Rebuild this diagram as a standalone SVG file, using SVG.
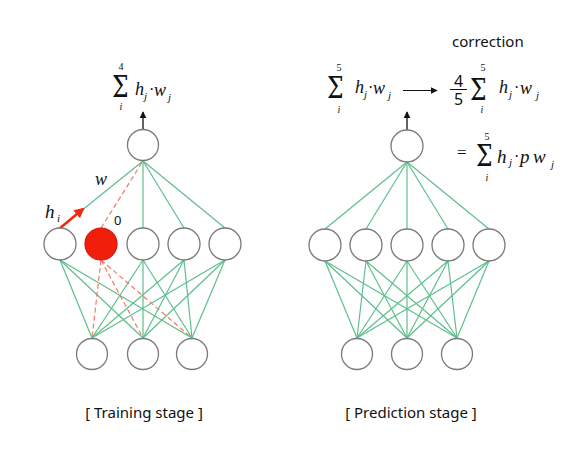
<svg xmlns="http://www.w3.org/2000/svg" width="583" height="456" viewBox="0 0 583 456">
<defs>
<marker id="ab" viewBox="0 0 10 10" refX="9" refY="5" markerWidth="7" markerHeight="7" markerUnits="userSpaceOnUse" orient="auto"><path d="M0,0 L10,5 L0,10 z" fill="#111"/></marker>
<marker id="ar" viewBox="0 0 10 10" refX="8" refY="5" markerWidth="4" markerHeight="4" orient="auto"><path d="M0,0 L10,5 L0,10 z" fill="#ee2a10"/></marker>
</defs>
<style>
.n{fill:#fff;stroke:#7a7a7a;stroke-width:1.3}
.g{stroke:#5dbf8b;stroke-width:1.2;fill:none}
.rd{stroke:#f27a68;stroke-width:1.2;fill:none;stroke-dasharray:5 3}
.m{font-family:"Liberation Serif",serif;font-style:italic;fill:#111}
.s{font-family:"Liberation Serif",serif;fill:#111}
.sig{font-family:"DejaVu Serif",serif;fill:#111;font-size:26px;font-weight:normal}
.t{font-family:"Noto Sans","Liberation Sans",sans-serif;fill:#111}
</style>
<rect width="583" height="456" fill="#fff"/>
<g id="connectors">
<line class="g" x1="60" y1="228" x2="143" y2="161"/>
<line class="rd" x1="101" y1="228" x2="143" y2="161"/>
<line class="g" x1="143" y1="228" x2="143" y2="161"/>
<line class="g" x1="184" y1="228" x2="143" y2="161"/>
<line class="g" x1="225" y1="228" x2="143" y2="161"/>
<line class="g" x1="60" y1="260" x2="92" y2="338"/>
<line class="g" x1="60" y1="260" x2="143" y2="338"/>
<line class="g" x1="60" y1="260" x2="192" y2="338"/>
<line class="rd" x1="101" y1="260" x2="92" y2="338"/>
<line class="rd" x1="101" y1="260" x2="143" y2="338"/>
<line class="rd" x1="101" y1="260" x2="192" y2="338"/>
<line class="g" x1="143" y1="260" x2="92" y2="338"/>
<line class="g" x1="143" y1="260" x2="143" y2="338"/>
<line class="g" x1="143" y1="260" x2="192" y2="338"/>
<line class="g" x1="184" y1="260" x2="92" y2="338"/>
<line class="g" x1="184" y1="260" x2="143" y2="338"/>
<line class="g" x1="184" y1="260" x2="192" y2="338"/>
<line class="g" x1="225" y1="260" x2="92" y2="338"/>
<line class="g" x1="225" y1="260" x2="143" y2="338"/>
<line class="g" x1="225" y1="260" x2="192" y2="338"/>
<line class="g" x1="325" y1="229" x2="407" y2="162"/>
<line class="g" x1="366" y1="229" x2="407" y2="162"/>
<line class="g" x1="407" y1="229" x2="407" y2="162"/>
<line class="g" x1="448" y1="229" x2="407" y2="162"/>
<line class="g" x1="489" y1="229" x2="407" y2="162"/>
<line class="g" x1="325" y1="261" x2="357" y2="338"/>
<line class="g" x1="325" y1="261" x2="407" y2="338"/>
<line class="g" x1="325" y1="261" x2="457" y2="338"/>
<line class="g" x1="366" y1="261" x2="357" y2="338"/>
<line class="g" x1="366" y1="261" x2="407" y2="338"/>
<line class="g" x1="366" y1="261" x2="457" y2="338"/>
<line class="g" x1="407" y1="261" x2="357" y2="338"/>
<line class="g" x1="407" y1="261" x2="407" y2="338"/>
<line class="g" x1="407" y1="261" x2="457" y2="338"/>
<line class="g" x1="448" y1="261" x2="357" y2="338"/>
<line class="g" x1="448" y1="261" x2="407" y2="338"/>
<line class="g" x1="448" y1="261" x2="457" y2="338"/>
<line class="g" x1="489" y1="261" x2="357" y2="338"/>
<line class="g" x1="489" y1="261" x2="407" y2="338"/>
<line class="g" x1="489" y1="261" x2="457" y2="338"/>
<line x1="143" y1="130" x2="143" y2="112" stroke="#111" stroke-width="1.3" marker-end="url(#ab)"/>
<line x1="407" y1="130" x2="407" y2="112" stroke="#111" stroke-width="1.3" marker-end="url(#ab)"/>
<line x1="403" y1="90.5" x2="437" y2="90.5" stroke="#111" stroke-width="1.2" marker-end="url(#ab)"/>
<line x1="59" y1="229" x2="83" y2="209" stroke="#ee2a10" stroke-width="2.6" marker-end="url(#ar)"/>
</g>
<g id="left-top"><circle class="n" cx="143" cy="145" r="15.5"/></g>
<g id="left-m1"><circle class="n" cx="60" cy="244" r="16"/></g>
<g id="left-m2"><circle cx="101" cy="244" r="16" fill="#f01e0a" stroke="#d81408" stroke-width="1.2"/></g>
<g id="left-m3"><circle class="n" cx="143" cy="244" r="16"/></g>
<g id="left-m4"><circle class="n" cx="184" cy="244" r="16"/></g>
<g id="left-m5"><circle class="n" cx="225" cy="244" r="16"/></g>
<g id="left-b1"><circle class="n" cx="92" cy="354" r="15.5"/></g>
<g id="left-b2"><circle class="n" cx="143" cy="354" r="15.5"/></g>
<g id="left-b3"><circle class="n" cx="192" cy="354" r="15.5"/></g>
<g id="right-top"><circle class="n" cx="407" cy="146" r="16"/></g>
<g id="right-m1"><circle class="n" cx="325" cy="245" r="16"/></g>
<g id="right-m2"><circle class="n" cx="366" cy="245" r="16"/></g>
<g id="right-m3"><circle class="n" cx="407" cy="245" r="16"/></g>
<g id="right-m4"><circle class="n" cx="448" cy="245" r="16"/></g>
<g id="right-m5"><circle class="n" cx="489" cy="245" r="16"/></g>
<g id="right-b1"><circle class="n" cx="357" cy="354" r="15.5"/></g>
<g id="right-b2"><circle class="n" cx="407" cy="354" r="15.5"/></g>
<g id="right-b3"><circle class="n" cx="457" cy="354" r="15.5"/></g>
<g id="labels-left">
<text class="m" x="95" y="185" font-size="18">w</text>
<text class="m" x="45" y="218" font-size="19">h</text>
<text class="m" x="57" y="222" font-size="11">i</text>
<text class="t" x="114" y="225" font-size="13">0</text>
</g>
<g id="formula-left">
<text class="sig" transform="translate(112,97) scale(0.9,1.15)">Σ</text>
<text class="s" x="121" y="70" font-size="10" text-anchor="middle">4</text>
<text class="m" x="121" y="110" font-size="10" text-anchor="middle">i</text>
<text class="m" x="135" y="95" font-size="18">h</text>
<text class="m" x="144" y="100" font-size="11">j</text>
<text class="s" x="149" y="95" font-size="16">·</text>
<text class="m" x="154" y="96" font-size="18">w</text>
<text class="m" x="168" y="101" font-size="11">j</text>
</g>
<g id="formula-right">
<text class="t" x="452" y="47" font-size="15">correction</text>
<text class="sig" transform="translate(327,98) scale(0.9,1.15)">Σ</text>
<text class="s" x="339" y="71" font-size="10" text-anchor="middle">5</text>
<text class="m" x="339" y="113" font-size="10" text-anchor="middle">i</text>
<text class="m" x="355" y="93" font-size="18">h</text>
<text class="m" x="364" y="98" font-size="11">j</text>
<text class="s" x="368" y="93" font-size="16">·</text>
<text class="m" x="373" y="94" font-size="18">w</text>
<text class="m" x="388" y="99" font-size="11">j</text>
<text class="t" x="458.5" y="87" font-size="16" text-anchor="middle">4</text>
<line x1="450" y1="89.5" x2="467" y2="89.5" stroke="#111" stroke-width="1"/>
<text class="t" x="458.5" y="105" font-size="16" text-anchor="middle">5</text>
<text class="sig" transform="translate(470,100) scale(0.9,1.15)">Σ</text>
<text class="s" x="483" y="71" font-size="10" text-anchor="middle">5</text>
<text class="m" x="482" y="113" font-size="10" text-anchor="middle">i</text>
<text class="m" x="499" y="93" font-size="18">h</text>
<text class="m" x="509" y="98" font-size="11">j</text>
<text class="s" x="514" y="93" font-size="16">·</text>
<text class="m" x="520" y="94" font-size="18">w</text>
<text class="m" x="536" y="99" font-size="11">j</text>
<text class="s" x="457" y="158" font-size="17">=</text>
<text class="sig" transform="translate(476,166) scale(0.9,1.15)">Σ</text>
<text class="s" x="487" y="140" font-size="10" text-anchor="middle">5</text>
<text class="m" x="487" y="181" font-size="10" text-anchor="middle">i</text>
<text class="m" x="497" y="163" font-size="19">h</text>
<text class="m" x="509" y="166" font-size="11">j</text>
<text class="s" x="514" y="162" font-size="16">·</text>
<text class="m" x="520" y="163" font-size="19">p</text>
<text class="m" x="533" y="163" font-size="19">w</text>
<text class="m" x="551" y="168" font-size="11">j</text>
</g>
<g id="captions">
<text class="t" x="144" y="418" font-size="15" text-anchor="middle">[ Training stage ]</text>
<text class="t" x="411" y="418" font-size="15" text-anchor="middle">[ Prediction stage ]</text>
</g>
</svg>
